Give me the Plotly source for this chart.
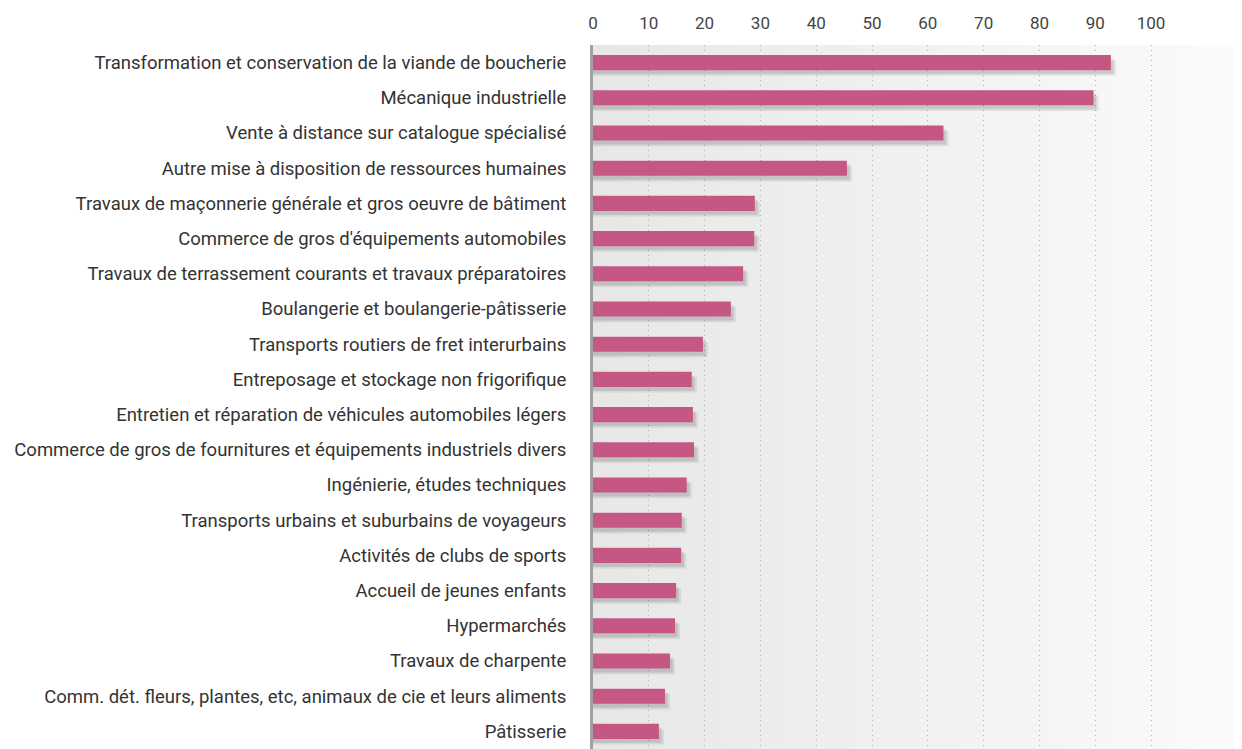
import base64
import plotly.graph_objects as go

categories = [
    "Transformation et conservation de la viande de boucherie",
    "Mécanique industrielle",
    "Vente à distance sur catalogue spécialisé",
    "Autre mise à disposition de ressources humaines",
    "Travaux de maçonnerie générale et gros oeuvre de bâtiment",
    "Commerce de gros d'équipements automobiles",
    "Travaux de terrassement courants et travaux préparatoires",
    "Boulangerie et boulangerie-pâtisserie",
    "Transports routiers de fret interurbains",
    "Entreposage et stockage non frigorifique",
    "Entretien et réparation de véhicules automobiles légers",
    "Commerce de gros de fournitures et équipements industriels divers",
    "Ingénierie, études techniques",
    "Transports urbains et suburbains de voyageurs",
    "Activités de clubs de sports",
    "Accueil de jeunes enfants",
    "Hypermarchés",
    "Travaux de charpente",
    "Comm. dét. fleurs, plantes, etc, animaux de cie et leurs aliments",
    "Pâtisserie",
]
values = [92.8, 89.7, 62.8, 45.5, 29.0, 28.9, 26.9, 24.7, 19.7, 17.7,
          17.9, 18.1, 16.8, 15.9, 15.8, 14.9, 14.7, 13.8, 12.9, 11.8]
tick_values = [0, 10, 20, 30, 40, 50, 60, 70, 80, 90, 100]
tick_labels = [str(v) for v in tick_values]

BAR_COLOR = "#c65784"
BAR_W = 0.43

svg = ('<svg xmlns="http://www.w3.org/2000/svg" width="100" height="100" preserveAspectRatio="none">'
       '<defs><linearGradient id="g" x1="0" y1="0" x2="1" y2="0">'
       '<stop offset="0" stop-color="#e7e7e7"/><stop offset="1" stop-color="#fbfbfb"/>'
       '</linearGradient></defs><rect width="100" height="100" fill="url(#g)"/></svg>')
bg_src = "data:image/svg+xml;base64," + base64.b64encode(svg.encode()).decode()

fig = go.Figure()
# soft drop shadow
for extra, dy, alpha in [(0.9, 0.16, 0.10), (0.5, 0.11, 0.14)]:
    fig.add_trace(go.Bar(
        y=categories, x=[v + extra for v in values], orientation="h",
        width=BAR_W, offset=-BAR_W / 2 + dy,
        marker=dict(color=f"rgba(60,60,60,{alpha})", line=dict(width=0)),
        hoverinfo="skip", showlegend=False,
    ))
fig.add_trace(go.Bar(
    y=categories, x=values, orientation="h",
    width=BAR_W, offset=-BAR_W / 2,
    marker=dict(color=BAR_COLOR, line=dict(width=0)),
    showlegend=False,
))

fig.update_layout(
    width=1234, height=741,
    margin=dict(l=585, r=0, t=37, b=0, pad=0),
    paper_bgcolor="white",
    plot_bgcolor="rgba(0,0,0,0)",
    barmode="overlay",
    font=dict(family="Roboto, sans-serif", color="#333333"),
    images=[dict(source=bg_src, xref="paper", yref="paper", x=0, y=1,
                 sizex=1, sizey=1, sizing="stretch", layer="below",
                 xanchor="left", yanchor="top")],
    xaxis=dict(
        side="top", range=[0, 116.3], tickvals=tick_values, ticktext=tick_labels,
        showgrid=True, gridcolor="#b0b0b0", griddash="1px,4px", gridwidth=1.2,
        zeroline=False, showline=False, ticks="",
        tickfont=dict(size=17, color="#444444"), ticklabelstandoff=12,
    ),
    yaxis=dict(
        autorange="reversed", showgrid=False, zeroline=False,
        showline=True, linecolor="#a0a0a0", linewidth=3, ticks="",
        tickfont=dict(size=18.5, color="#333333"), ticklabelstandoff=20,
    ),
)

fig.write_html("out.html")
